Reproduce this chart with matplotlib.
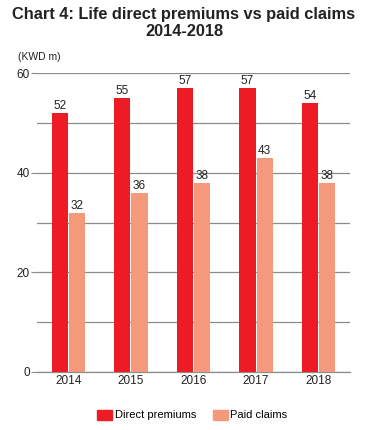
import matplotlib
matplotlib.use("Agg")
import matplotlib.pyplot as plt
import numpy as np
from matplotlib.patches import Patch

plt.rcParams['font.family'] = ['Liberation Sans', 'DejaVu Sans']

years = ["2014", "2015", "2016", "2017", "2018"]
direct_premiums = [52, 55, 57, 57, 54]
paid_claims = [32, 36, 38, 43, 38]
series_names = ["Direct premiums", "Paid claims"]
colors = ["#ED1C24", "#F4997B"]

fig = plt.figure(figsize=(3.73, 4.30), dpi=100)
ax = fig.add_axes([37/373, 1-372/430, 313/373, 299/430])

x = np.arange(len(years))
w = 0.26
gap = 0.008
b1 = ax.bar(x - w/2 - gap, direct_premiums, w, color=colors[0], zorder=3)
b2 = ax.bar(x + w/2 + gap, paid_claims, w, color=colors[1], zorder=3)
for bars, vals in ((b1, direct_premiums), (b2, paid_claims)):
    for r, v in zip(bars, vals):
        ax.text(r.get_x() + r.get_width()/2, v + 0.2, str(v), ha="center", va="bottom",
                fontsize=8.5, color="#222222", zorder=4)

ax.set_xlim(-0.5, len(years) - 0.5)
ax.set_ylim(0, 60)
ax.set_yticks([0, 20, 40, 60])
ax.set_yticks([10, 30, 50], minor=True)
ax.grid(axis="y", which="both", color="#8c8c8c", linewidth=0.9, zorder=0)
ax.set_xticks(x)
ax.set_xticklabels(years, fontsize=8.5, color="#222222")
ax.tick_params(axis="y", which="major", length=4, color="#8c8c8c", labelsize=8.5, labelcolor="#222222", pad=1)
ax.tick_params(axis="y", which="minor", length=0)
ax.tick_params(axis="x", length=0, pad=2)
for s in ["top", "right", "left"]:
    ax.spines[s].set_visible(False)
ax.spines["bottom"].set_color("#8c8c8c")
ax.spines["bottom"].set_linewidth(0.9)

fig.text(184/373, 1-15/430, "Chart 4: Life direct premiums vs paid claims", ha="center", va="center",
         fontsize=11.8, fontweight="bold", color="#222222")
fig.text(184/373, 1-31/430, "2014-2018", ha="center", va="center",
         fontsize=11.8, fontweight="bold", color="#222222")
fig.text(18/373, 1-57/430, "(KWD m)", ha="left", va="center", fontsize=7.5, color="#222222")

handles = [Patch(color=c) for c in colors]
fig.legend(handles, series_names, loc="center", bbox_to_anchor=(0.515, 1-415/430), ncol=2,
           frameon=False, fontsize=8, handlelength=1.4, handleheight=1.0, handletextpad=0.2,
           columnspacing=1.5)

fig.savefig("out.png", dpi=100)
